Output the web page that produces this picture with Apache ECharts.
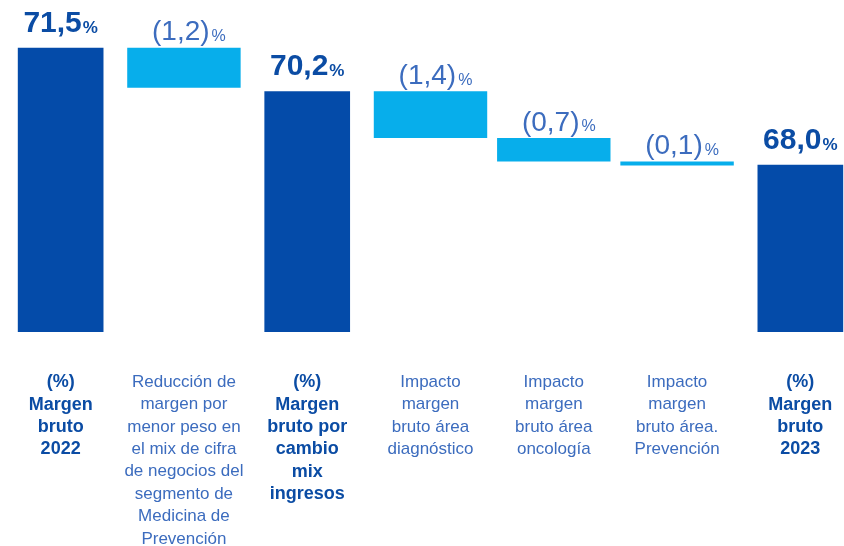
<!DOCTYPE html>
<html>
<head>
<meta charset="utf-8">
<script src="https://cdn.jsdelivr.net/npm/echarts@6/dist/echarts.min.js"></script>
<style>
html, body { margin: 0; padding: 0; background: #fff; overflow: hidden; }
#chart { width: 844px; height: 546px; }
</style>
</head>
<body>
<div id="chart"></div>
<script>
// datos del gráfico (margen bruto, %)
var categories = [
  '(%)\nMargen\nbruto\n2022',
  'Reducción de\nmargen por\nmenor peso en\nel mix de cifra\nde negocios del\nsegmento de\nMedicina de\nPrevención',
  '(%)\nMargen\nbruto por\ncambio\nmix\ningresos',
  'Impacto\nmargen\nbruto área\ndiagnóstico',
  'Impacto\nmargen\nbruto área\noncología',
  'Impacto\nmargen\nbruto área.\nPrevención',
  '(%)\nMargen\nbruto\n2023'
];
var values = [71.5, -1.2, 70.2, -1.4, -0.7, -0.1, 68.0];
var isTotal = [true, false, true, false, false, false, true];
var valueLabels = ['71,5', '(1,2)', '70,2', '(1,4)', '(0,7)', '(0,1)', '68,0'];

var yMin = 63, yMax = 72;
var darkBlue = '#044ba9', lightBlue = '#07aeeb';
var boldText = '#0b4ca4', thinText = '#3c6cbe';
var font = '"Liberation Sans", Arial, sans-serif';

// escalones de la cascada
var steps = [];
var running = 0;
for (var i = 0; i < values.length; i++) {
  if (isTotal[i]) {
    steps.push([i, yMin, values[i], 1]);
    running = values[i];
  } else {
    steps.push([i, running + values[i], running, 0]);
    running += values[i];
  }
}

var axisData = categories.map(function (c, i) {
  return {
    value: c,
    textStyle: isTotal[i]
      ? { color: boldText, fontWeight: 'bold', fontSize: 18, lineHeight: 22.4 }
      : { color: thinText, fontWeight: 'normal', fontSize: 17, lineHeight: 22.4 }
  };
});

function renderItem(params, api) {
  var idx = api.value(0);
  var total = api.value(3) === 1;
  var band = api.size([1, 0])[0];
  var w = band * (total ? 0.695 : 0.92);
  var top = api.coord([idx, api.value(2)]);
  var bottom = api.coord([idx, api.value(1)]);
  var h = Math.max(bottom[1] - top[1], 4);
  var lbl = valueLabels[params.dataIndex];
  return {
    type: 'group',
    children: [
      {
        type: 'rect',
        shape: { x: top[0] - w / 2, y: top[1], width: w, height: h },
        style: { fill: total ? darkBlue : lightBlue }
      },
      {
        type: 'text',
        x: top[0] + (total ? 0 : 5),
        y: top[1] - (total ? 9 : 1),
        style: {
          text: total ? '{v|' + lbl + '}{p|%}' : '{d|' + lbl + '}{q|%}',
          align: 'center',
          verticalAlign: 'bottom',
          rich: {
            v: { fontFamily: font, fontWeight: 'bold', fontSize: 30, lineHeight: 32, fill: boldText, verticalAlign: 'bottom' },
            p: { fontFamily: font, fontWeight: 'bold', fontSize: 17, lineHeight: 20, fill: boldText, verticalAlign: 'bottom', padding: [0, 0, 2, 1] },
            d: { fontFamily: font, fontWeight: 'normal', fontSize: 28, lineHeight: 32, fill: thinText, verticalAlign: 'bottom' },
            q: { fontFamily: font, fontWeight: 'normal', fontSize: 16, lineHeight: 20, fill: thinText, verticalAlign: 'bottom', padding: [0, 0, 2, 2] }
          }
        }
      }
    ]
  };
}

var myChart = echarts.init(document.getElementById('chart'));
var option = {
  animation: false,
  grid: { left: -1, right: -18, top: 31, bottom: 214, outerBoundsMode: 'none' },
  xAxis: {
    type: 'category',
    data: axisData,
    axisLine: { show: false },
    axisTick: { show: false },
    axisLabel: { interval: 0, margin: 39, fontFamily: font }
  },
  yAxis: {
    type: 'value',
    min: yMin,
    max: yMax,
    show: false
  },
  series: [{
    type: 'custom',
    renderItem: renderItem,
    clip: false,
    encode: { x: 0, y: [1, 2] },
    data: steps
  }]
};
myChart.setOption(option);
</script>
</body>
</html>
